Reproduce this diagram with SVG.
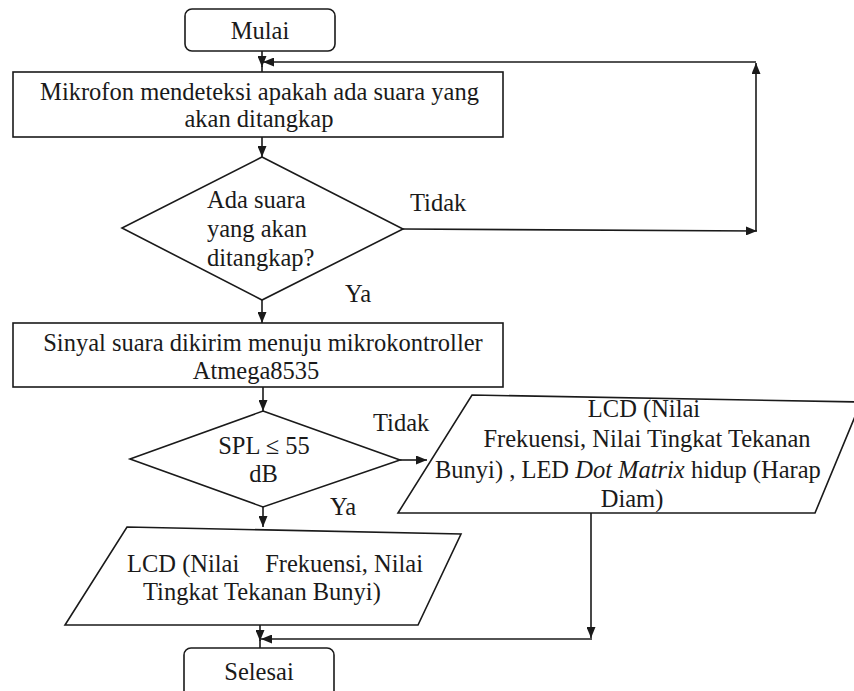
<svg xmlns="http://www.w3.org/2000/svg" width="854" height="691" viewBox="0 0 854 691">
<style>
.s{fill:#fff;stroke:#1a1a1a;stroke-width:1.6}
.c{fill:none;stroke:#1a1a1a;stroke-width:1.6}
text{font-family:"Liberation Serif","Times New Roman",serif;font-size:24.5px;fill:#1a1a1a}
.m{text-anchor:middle}
.e{text-anchor:end}
</style>
<defs>
<marker id="ah" markerUnits="userSpaceOnUse" markerWidth="11" markerHeight="9" refX="11" refY="4.5" orient="auto">
<path d="M0,0 L11,4.5 L0,9 z" fill="#1a1a1a"/>
</marker>
</defs>
<rect width="854" height="691" fill="#fff"/>
<g id="connectors">
<path class="c" d="M262,51 V67" marker-end="url(#ah)"/>
<path class="c" d="M262,66 V72"/>
<path class="c" d="M756,231 V63" marker-end="url(#ah)"/>
<path class="c" d="M756,62 H263" marker-end="url(#ah)"/>
<path class="c" d="M262,137 V157" marker-end="url(#ah)"/>
<path class="c" d="M403,229 L757,231" marker-end="url(#ah)"/>
<path class="c" d="M262,300 V323" marker-end="url(#ah)"/>
<path class="c" d="M263,387 V411" marker-end="url(#ah)"/>
<path class="c" d="M400,460 H427" marker-end="url(#ah)"/>
<path class="c" d="M263,507 V527" marker-end="url(#ah)"/>
<path class="c" d="M591,513 V638" marker-end="url(#ah)"/>
<path class="c" d="M592,639 H261" marker-end="url(#ah)"/>
<path class="c" d="M260,625 V641" marker-end="url(#ah)"/>
<path class="c" d="M260,640 V648"/>
<text x="410" y="211">Tidak</text>
<text x="345" y="302">Ya</text>
<text x="373" y="431">Tidak</text>
<text x="330" y="515">Ya</text>
</g>
<g id="mulai">
<rect class="s" x="185" y="9" width="150" height="42" rx="7"/>
<text class="m" x="260" y="39">Mulai</text>
</g>
<g id="mikrofon">
<rect class="s" x="13" y="72" width="490" height="65"/>
<text class="m" x="259.5" y="100">Mikrofon mendeteksi apakah ada suara yang</text>
<text class="m" x="259" y="127">akan ditangkap</text>
</g>
<g id="decision1">
<polygon class="s" points="262,157 403,229 262,300 122,228"/>
<text x="207" y="208">Ada suara</text>
<text x="207" y="237">yang akan</text>
<text x="207" y="266">ditangkap?</text>
</g>
<g id="sinyal">
<rect class="s" x="13" y="323" width="490" height="64"/>
<text class="m" x="263" y="351">Sinyal suara dikirim menuju mikrokontroller</text>
<text class="m" x="256" y="379">Atmega8535</text>
</g>
<g id="decision2">
<polygon class="s" points="263,411 400,460 263,507 130,459"/>
<text class="m" x="264" y="454">SPL ≤ 55</text>
<text class="m" x="263.5" y="482">dB</text>
</g>
<g id="output-led">
<polygon class="s" points="472,395 861,402 815,513 398,513"/>
<text class="m" x="644" y="417">LCD (Nilai</text>
<text class="m" x="647" y="447">Frekuensi, Nilai Tingkat Tekanan</text>
<text x="435" y="478">Bunyi) , LED <tspan font-style="italic">Dot Matrix</tspan> hidup (Harap</text>
<text class="m" x="632" y="507">Diam)</text>
</g>
<g id="output-lcd">
<polygon class="s" points="127,527 461,534 418,625 65,625"/>
<text x="127" y="572">LCD (Nilai</text>
<text class="e" x="423" y="572">Frekuensi, Nilai</text>
<text x="143" y="600">Tingkat Tekanan Bunyi)</text>
</g>
<g id="selesai">
<rect class="s" x="184" y="648" width="150" height="52" rx="7"/>
<text class="m" x="259" y="680">Selesai</text>
</g>
</svg>
